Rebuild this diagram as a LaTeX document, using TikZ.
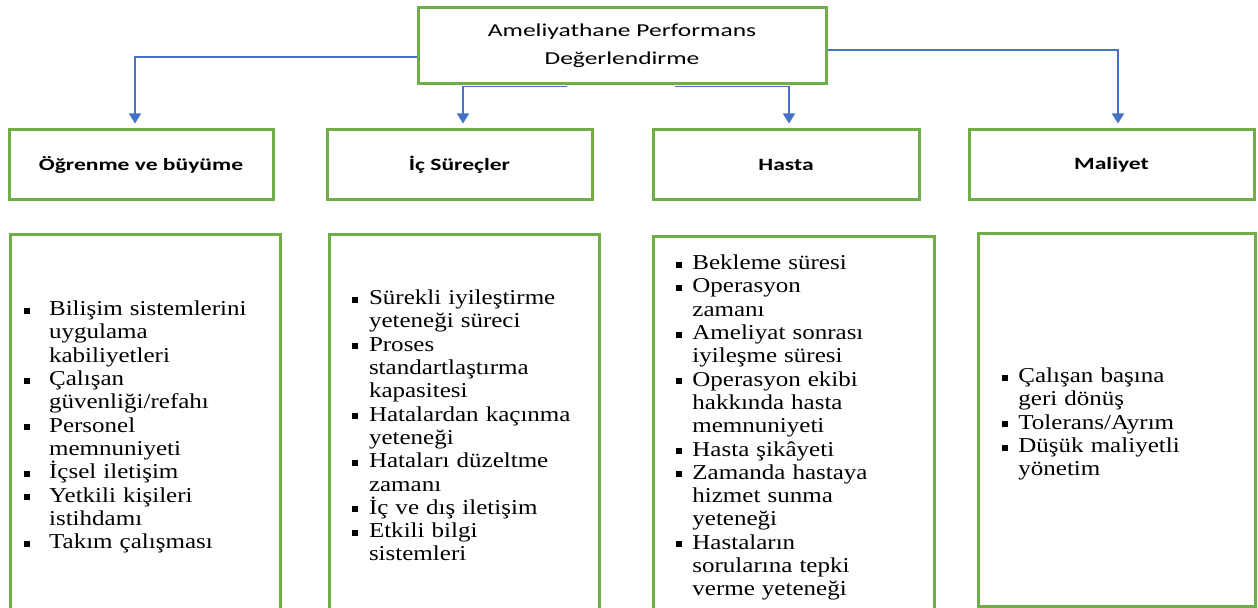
\documentclass[tikz,border=0pt]{standalone}
\usepackage{fontspec}
\usepackage{tikz}
\usetikzlibrary{arrows.meta}
\setmainfont[FakeStretch=1.18]{Liberation Serif}
\newfontfamily\topfont[FakeStretch=1.4]{Carlito}
\newfontfamily\headfont[FakeStretch=1.37]{Carlito}
\definecolor{boxgreen}{HTML}{70AD47}
\definecolor{linkblue}{HTML}{4472C4}
\newlength{\itmind}
\newcommand{\itm}[1]{\par\noindent\hangindent=\itmind\hangafter=1\makebox[\itmind][l]{\raisebox{1pt}{\rule{3pt}{3pt}}}#1\par}

\begin{document}
\begin{tikzpicture}[x=0.5pt,y=-0.5pt,
	box/.style={draw=boxgreen,line width=1.5pt,inner sep=0pt},
	head/.style={box,minimum height=35pt,font=\headfont\bfseries\fontsize{8.6}{10}\selectfont},
	list/.style={anchor=north west,inner sep=0pt,text width=125pt,align=left,font=\fontsize{10.6}{11.65}\selectfont},
	link/.style={draw=linkblue,line width=0.8pt,-{Triangle[width=6pt,length=5pt]},shorten >=2.5pt}]
	\useasboundingbox (0,0) rectangle (1258,608);
	\clip (0,0) rectangle (1258,608);
	\node[box,minimum width=204pt,minimum height=38pt,align=center,font=\topfont\fontsize{9.1}{14.2}\selectfont] (top) at (622,46) {Ameliyathane Performans\\Değerlendirme};
	\foreach \n/\x/\w/\t in {h1/141/132/Öğrenme ve büyüme, h2/459.5/132.5/İç Süreçler, h3/786/133/Hasta, h4/1111.5/142.5/Maliyet}
		\node[head,minimum width=\w pt] (\n) at (\x,165) {\t};
	\foreach \n/\x/\y/\w/\h in {b1/9/233/135/191, b2/328/233/135/191, b3/652/235/140.5/191, b4/977/232/138.5/186.5}
		\node[box,anchor=north west,minimum width=\w pt,minimum height=\h pt] (\n) at (\x,\y) {};
	\draw[link] ([yshift=-5.5pt]top.west) -| ([xshift=-3pt]h1.north);
	\draw[link] ([xshift=-27.5pt,yshift=-0.5pt]top.south) -| ([xshift=1.75pt]h2.north);
	\draw[link] ([xshift=26.5pt,yshift=-0.5pt]top.south) -| ([xshift=1.5pt]h3.north);
	\draw[link] ([yshift=-2pt]top.east) -| ([xshift=3.25pt]h4.north);
	\node[list] (l1) at (23.7,292) {\setlength\itmind{12.5pt}%
		\itm{Bilişim sistemlerini\newline uygulama\newline kabiliyetleri}
		\itm{Çalışan\newline güvenliği/refahı}
		\itm{Personel\newline memnuniyeti}
		\itm{İçsel iletişim}
		\itm{Yetkili kişileri\newline istihdamı}
		\itm{Takım çalışması}};
	\node[list] (l2) at (352,281) {\setlength\itmind{8.3pt}%
		\itm{Sürekli iyileştirme\newline yeteneği süreci}
		\itm{Proses\newline standartlaştırma\newline kapasitesi}
		\itm{Hatalardan kaçınma\newline yeteneği}
		\itm{Hataları düzeltme\newline zamanı}
		\itm{İç ve dış iletişim}
		\itm{Etkili bilgi\newline sistemleri}};
	\node[list] (l3) at (676,246) {\setlength\itmind{8pt}%
		\itm{Bekleme süresi}
		\itm{Operasyon\newline zamanı}
		\itm{Ameliyat sonrası\newline iyileşme süresi}
		\itm{Operasyon ekibi\newline hakkında hasta\newline memnuniyeti}
		\itm{Hasta şikâyeti}
		\itm{Zamanda hastaya\newline hizmet sunma\newline yeteneği}
		\itm{Hastaların\newline sorularına tepki\newline verme yeteneği}};
	\node[list] (l4) at (1002,359) {\setlength\itmind{8pt}%
		\itm{Çalışan başına\newline geri dönüş}
		\itm{Tolerans/Ayrım}
		\itm{Düşük maliyetli\newline yönetim}};
\end{tikzpicture}
\end{document}
